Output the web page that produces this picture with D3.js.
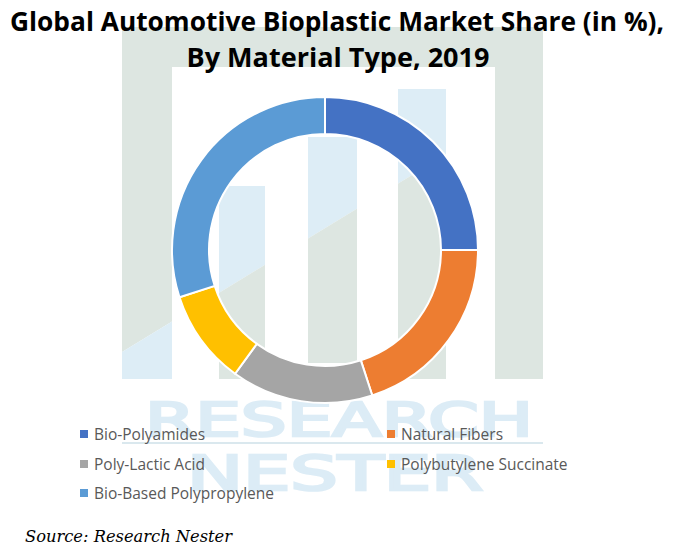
<!DOCTYPE html>
<html><head><meta charset="utf-8">
<script src="https://cdn.jsdelivr.net/npm/d3@7"></script>
<style>html,body{margin:0;padding:0;background:#fff;}svg{display:block;}</style>
</head><body>
<script>
const categories = ["Bio-Polyamides","Natural Fibers","Poly-Lactic Acid","Polybutylene Succinate","Bio-Based Polypropylene"];
const shares = [25, 20, 15, 10, 30];
const colors = ["#4472C4","#ED7D31","#A5A5A5","#FFC000","#5B9BD5"];
const titleLines = ["Global Automotive Bioplastic Market Share (in %),","By Material Type, 2019"];
const sourceText = "Source: Research Nester";

const W = 674, H = 554;
const svg = d3.select("body").append("svg").attr("width", W).attr("height", H);

// ---- watermark ----
const wm = svg.append("g");
const defs = svg.append("defs");
const lineY = x => 352 - 0.61 * (x - 122);
defs.append("clipPath").attr("id","above").append("polygon")
  .attr("points", `0,0 ${W},0 ${W},${lineY(W)} 0,${lineY(0)}`);
defs.append("clipPath").attr("id","below").append("polygon")
  .attr("points", `0,${lineY(0)} ${W},${lineY(W)} ${W},${H} 0,${H}`);
const gray = "#dde6e1", lblue = "#ddedf6";
const frame = [[122,27,50,352],[122,27,421,40]];
const inner = [[219,186,46,193],[308,137,49,226],[398,89,48,290]];
const fg = wm.append("g");
fg.selectAll("rect.fa").data(frame).join("rect").attr("class","fa").attr("clip-path","url(#above)")
  .attr("x",d=>d[0]).attr("y",d=>d[1]).attr("width",d=>d[2]).attr("height",d=>d[3]).attr("fill",gray);
fg.selectAll("rect.fb").data(frame).join("rect").attr("class","fb").attr("clip-path","url(#below)")
  .attr("x",d=>d[0]).attr("y",d=>d[1]).attr("width",d=>d[2]).attr("height",d=>d[3]).attr("fill",lblue);
wm.append("rect").attr("x",495).attr("y",27).attr("width",48).attr("height",352).attr("fill",gray);
const ig = wm.append("g");
ig.selectAll("rect.ia").data(inner).join("rect").attr("class","ia").attr("clip-path","url(#above)")
  .attr("x",d=>d[0]).attr("y",d=>d[1]).attr("width",d=>d[2]).attr("height",d=>d[3]).attr("fill",lblue);
ig.selectAll("rect.ib").data(inner).join("rect").attr("class","ib").attr("clip-path","url(#below)")
  .attr("x",d=>d[0]).attr("y",d=>d[1]).attr("width",d=>d[2]).attr("height",d=>d[3]).attr("fill",gray);
wm.append("text").attr("x",145).attr("y",436).attr("textLength",388).attr("lengthAdjust","spacingAndGlyphs")
  .attr("font-family","DejaVu Sans").attr("font-size",46)
  .attr("fill","#dcecf6").attr("stroke","#dcecf6").attr("stroke-width",2.5).text("RESEARCH");
wm.append("rect").attr("x",122).attr("y",442).attr("width",421).attr("height",2).attr("fill","#dae8ee");
wm.append("text").attr("x",187).attr("y",490).attr("textLength",296).attr("lengthAdjust","spacingAndGlyphs")
  .attr("font-family","DejaVu Sans").attr("font-size",48)
  .attr("fill","#dcecf6").attr("stroke","#dcecf6").attr("stroke-width",2.5).text("NESTER");

// ---- title ----
const tg = svg.append("g").attr("font-family","'Open Sans', sans-serif").attr("font-weight","bold")
  .attr("fill","#000").attr("text-anchor","middle");
tg.append("text").attr("x",337).attr("y",31).attr("font-size",27)
  .attr("textLength",654).attr("lengthAdjust","spacingAndGlyphs").text(titleLines[0]);
tg.append("text").attr("x",338).attr("y",67).attr("font-size",27)
  .attr("textLength",303).attr("lengthAdjust","spacingAndGlyphs").text(titleLines[1]);

// ---- donut ----
const cx = 325, cy = 250, rOut = 153, rIn = 116;
const pie = d3.pie().value(d => d).sort(null);
const arc = d3.arc().innerRadius(rIn).outerRadius(rOut);
const color = d3.scaleOrdinal().domain(categories).range(colors);
svg.append("g").attr("transform",`translate(${cx},${cy})`)
  .selectAll("path").data(pie(shares)).join("path")
  .attr("d", arc).attr("fill",(d,i)=>color(categories[i]))
  .attr("stroke","#fff").attr("stroke-width",2);

// ---- legend ----
const legPos = [[80,434],[387,434],[80,464],[387,464],[80,493]];
const lg = svg.append("g").attr("font-family","'Open Sans', sans-serif").attr("font-size",15.5).attr("fill","#595959");
const items = lg.selectAll("g").data(categories).join("g")
  .attr("transform",(d,i)=>`translate(${legPos[i][0]},${legPos[i][1]})`);
items.append("rect").attr("x",0).attr("y",-4).attr("width",8).attr("height",8).attr("fill",d=>color(d));
items.append("text").attr("x",14).attr("y",5.5).text(d=>d);

// ---- source ----
svg.append("text").attr("x",25).attr("y",542).attr("font-family","'DejaVu Serif', serif")
  .attr("font-style","italic").attr("font-size",16).attr("fill","#000")
  .attr("textLength",207).attr("lengthAdjust","spacingAndGlyphs").text(sourceText);
</script>
</body></html>
